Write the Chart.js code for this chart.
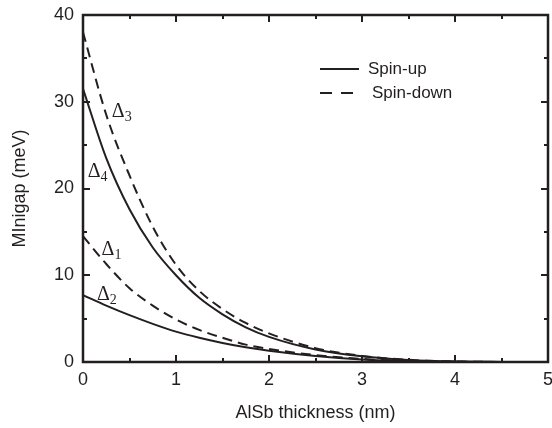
<!DOCTYPE html>
<html>
<head>
<meta charset="utf-8">
<script src="https://cdn.jsdelivr.net/npm/chart.js@4.4.0/dist/chart.umd.min.js"></script>
<style>
  html, body { margin: 0; padding: 0; background: #fff; }
</style>
</head>
<body>
<canvas id="chart" width="552" height="428"></canvas>
<script>
// AlSb thickness (nm)
const thickness = [0, 0.25, 0.5, 0.75, 1, 1.25, 1.5, 1.75, 2, 2.5, 3, 3.5, 4, 4.5, 5];
// minigap (meV)
const delta1 = [14.5, 11.3, 8.5, 6.5, 4.9, 3.7, 2.8, 2.0, 1.5, 0.8, 0.35, 0.12, 0.03, 0.0, 0.0]; // spin-down
const delta2 = [7.7, 6.5, 5.4, 4.4, 3.5, 2.8, 2.2, 1.7, 1.3, 0.7, 0.3, 0.1, 0.03, 0.0, 0.0];     // spin-up
const delta3 = [38, 28.5, 21.5, 15.6, 11.2, 8.2, 6.1, 4.5, 3.3, 1.6, 0.7, 0.25, 0.05, 0.01, 0.0]; // spin-down
const delta4 = [31.5, 23.5, 17.6, 13.2, 10.0, 7.4, 5.5, 4.0, 2.9, 1.45, 0.65, 0.22, 0.05, 0.01, 0.0]; // spin-up

const xTicks = [0, 1, 2, 3, 4, 5];
const yTicks = [0, 10, 20, 30, 40];

// curve labels: [main, subscript, x, y]
const curveLabels = [
  ['\u0394', '3', 0.31, 29],
  ['\u0394', '4', 0.05, 22.1],
  ['\u0394', '1', 0.2, 13.1],
  ['\u0394', '2', 0.15, 7.9]
];

const ink = '#231f20';
const dash = [10, 6];

function toPoints(ys) {
  return thickness.map((x, i) => ({ x: x, y: ys[i] }));
}

function line(ys, dashed) {
  return {
    data: toPoints(ys),
    borderColor: ink,
    borderWidth: 2,
    borderDash: dashed ? dash : [],
    pointRadius: 0,
    cubicInterpolationMode: 'monotone',
    fill: false
  };
}

// frame, inward ticks, legend and delta labels
const decorations = {
  id: 'decorations',
  afterDatasetsDraw(chart) {
    const { ctx, chartArea: a, scales: { x, y } } = chart;
    ctx.save();
    ctx.strokeStyle = ink;
    ctx.lineWidth = 2;
    ctx.setLineDash([]);

    ctx.beginPath();
    for (let v = 0; v <= 5; v += 0.5) {
      const px = Math.round(x.getPixelForValue(v));
      const len = v % 1 === 0 ? 7 : 4;
      ctx.moveTo(px, a.bottom); ctx.lineTo(px, a.bottom - len);
      ctx.moveTo(px, a.top); ctx.lineTo(px, a.top + len);
    }
    for (let v = 0; v <= 40; v += 5) {
      const py = Math.round(y.getPixelForValue(v));
      const len = v % 10 === 0 ? 7 : 4;
      ctx.moveTo(a.left, py); ctx.lineTo(a.left + len, py);
      ctx.moveTo(a.right, py); ctx.lineTo(a.right - len, py);
    }
    ctx.stroke();

    ctx.lineWidth = 2.5;
    ctx.strokeRect(a.left, a.top, a.right - a.left, a.bottom - a.top);

    // legend
    ctx.lineWidth = 2;
    ctx.beginPath();
    ctx.moveTo(320, 69); ctx.lineTo(359, 69);
    ctx.stroke();
    ctx.setLineDash([12, 9]);
    ctx.beginPath();
    ctx.moveTo(320, 93); ctx.lineTo(354, 93);
    ctx.stroke();
    ctx.setLineDash([]);
    ctx.fillStyle = ink;
    ctx.font = '17px "Liberation Sans", Arial, sans-serif';
    ctx.textBaseline = 'middle';
    ctx.textAlign = 'left';
    ctx.fillText('Spin-up', 368, 69);
    ctx.fillText('Spin-down', 372, 93);

    // delta labels
    curveLabels.forEach(([main, sub, vx, vy]) => {
      const px = x.getPixelForValue(vx);
      const py = y.getPixelForValue(vy);
      ctx.font = '20px "Liberation Serif", "Times New Roman", serif';
      ctx.textBaseline = 'alphabetic';
      ctx.fillText(main, px, py + 7);
      const w = ctx.measureText(main).width;
      ctx.font = '14px "Liberation Serif", "Times New Roman", serif';
      ctx.fillText(sub, px + w, py + 11);
    });
    ctx.restore();
  }
};

const chart = new Chart(document.getElementById('chart'), {
  type: 'line',
  data: {
    datasets: [
      line(delta3, true),
      line(delta4, false),
      line(delta1, true),
      line(delta2, false)
    ]
  },
  options: {
    responsive: false,
    animation: false,
    devicePixelRatio: 1,
    layout: { padding: { left: 0, right: 4, top: 15, bottom: 0 } },
    plugins: { legend: { display: false }, tooltip: { enabled: false } },
    scales: {
      x: {
        type: 'linear',
        min: 0,
        max: 5,
        afterFit: s => { s.height = 66; s.paddingLeft = 0; s.paddingRight = 0; },
        afterBuildTicks: s => { s.ticks = xTicks.map(v => ({ value: v })); },
        grid: { display: false, drawTicks: false },
        border: { display: false },
        ticks: {
          color: ink,
          padding: 7,
          maxRotation: 0,
          font: { size: 18, family: '"Liberation Sans", Arial, sans-serif' }
        },
        title: {
          display: true,
          text: 'AlSb thickness (nm)',
          color: ink,
          padding: { top: 0, bottom: 4 },
          font: { size: 18, family: '"Liberation Sans", Arial, sans-serif' }
        }
      },
      y: {
        type: 'linear',
        min: 0,
        max: 40,
        afterFit: s => { s.width = 83; s.paddingTop = 0; s.paddingBottom = 0; },
        afterBuildTicks: s => { s.ticks = yTicks.map(v => ({ value: v })); },
        grid: { display: false, drawTicks: false },
        border: { display: false },
        ticks: {
          color: ink,
          padding: 9,
          font: { size: 18, family: '"Liberation Sans", Arial, sans-serif' }
        },
        title: {
          display: true,
          text: 'MInigap (meV)',
          color: ink,
          padding: { top: 9, bottom: 0 },
          font: { size: 18, family: '"Liberation Sans", Arial, sans-serif' }
        }
      }
    }
  },
  plugins: [decorations]
});
</script>
</body>
</html>
